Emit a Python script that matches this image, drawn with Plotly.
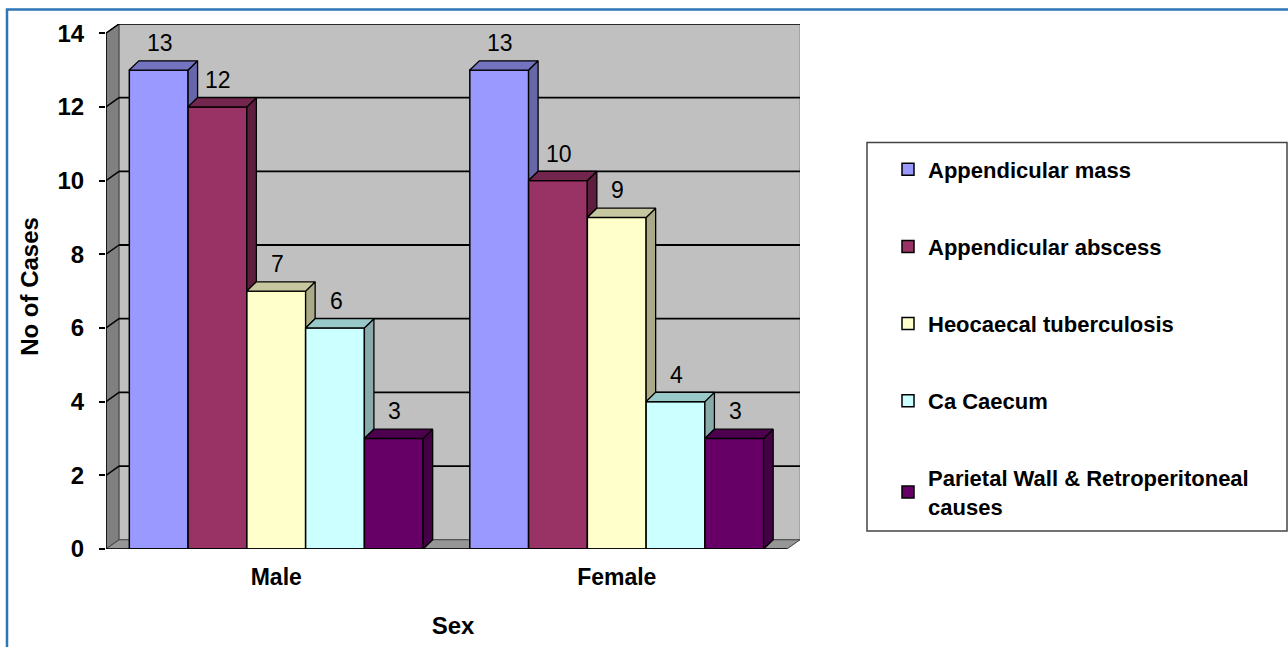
import plotly.graph_objects as go

# Case counts by sex for each diagnosis
sexes = ["Male", "Female"]
diagnoses = [
    "Appendicular mass",
    "Appendicular abscess",
    "Heocaecal tuberculosis",
    "Ca Caecum",
    "Parietal Wall & Retroperitoneal<br>causes",
]
male_cases = [13, 12, 7, 6, 3]
female_cases = [13, 10, 9, 4, 3]
y_ticks = [0, 2, 4, 6, 8, 10, 12, 14]

# face colours: front, side (shaded), top (shaded)
front_cols = ["#9999FF", "#993366", "#FFFFCC", "#CCFFFF", "#660066"]
side_cols = ["#6666AA", "#5E1F3F", "#AAAA88", "#88AAAA", "#440044"]
top_cols = ["#7373C0", "#73264D", "#C8C8A0", "#99C8C8", "#4D004D"]

FONT = "Arial, Liberation Sans, sans-serif"

# plot area geometry (pixels)
L, R, T, B = 106, 488, 24, 96
W_PX = 1288 - L - R
H_PX = 647 - T - B

x_lo = -0.5
x_hi = len(sexes) - 0.5 + 13 / 340.5
y_hi = y_ticks[-1] + 0.25

px_x = (x_hi - x_lo) / W_PX   # axis units per pixel
px_y = y_hi / H_PX

# depth offsets for walls and bars
wdx, wdy = 13 * px_x, 9.3 * px_y
bdx, bdy = 9.5 * px_x, 9.3 * px_y

group_frac = 0.863
n = len(diagnoses)
bw = group_frac / n
start = -group_frac / 2

values = [[male_cases[i], female_cases[i]] for i in range(n)]
cat_idx = list(range(len(sexes)))

fig = go.Figure()

# front faces
for i in range(n):
    fig.add_trace(go.Bar(
        x=cat_idx, y=values[i], width=bw, offset=start + i * bw,
        name=diagnoses[i], legendgroup=str(i),
        marker=dict(color=front_cols[i], line=dict(color="black", width=1.5)),
        hoverinfo="skip",
    ))

# top and side faces
for i in range(n):
    tx, ty, sx, sy = [], [], [], []
    for c in cat_idx:
        v = values[i][c]
        left = c + start + i * bw
        right = left + bw
        nxt = values[i + 1][c] if i + 1 < n else 0
        lo = min(nxt, v)
        tx += [left, right, right + bdx, left + bdx, left, None]
        ty += [v, v, v + bdy, v + bdy, v, None]
        sx += [right, right, right + bdx, right + bdx, right, None]
        sy += [lo, v, v + bdy, lo + bdy, lo, None]
    fig.add_trace(go.Scatter(x=sx, y=sy, mode="lines", fill="toself",
                             fillcolor=side_cols[i], line=dict(color="black", width=1.3),
                             showlegend=False, hoverinfo="skip"))
    fig.add_trace(go.Scatter(x=tx, y=ty, mode="lines", fill="toself",
                             fillcolor=top_cols[i], line=dict(color="black", width=1.3),
                             showlegend=False, hoverinfo="skip"))

# value labels
for i in range(n):
    for c in cat_idx:
        v = values[i][c]
        cx = c + start + (i + 0.5) * bw
        fig.add_annotation(x=cx, y=v, text=str(v), showarrow=False,
                           xshift=1, yshift=27, yanchor="middle",
                           font=dict(family=FONT, size=23, color="black"))

shapes = []
xb0, xb1 = x_lo, len(sexes) - 0.5
# back wall
shapes.append(dict(type="rect", xref="x", yref="y", layer="below",
                   x0=xb0 + wdx, x1=xb1 + wdx, y0=wdy, y1=y_ticks[-1] + wdy,
                   fillcolor="#C0C0C0", line=dict(color="#9A9A9A", width=1.5)))
# left wall
shapes.append(dict(type="path", xref="x", yref="y", layer="below",
                   path=f"M{xb0},0 L{xb0},{y_ticks[-1]} L{xb0 + wdx},{y_ticks[-1] + wdy} L{xb0 + wdx},{wdy} Z",
                   fillcolor="#808080", line=dict(color="#404040", width=1)))
# floor
shapes.append(dict(type="path", xref="x", yref="y", layer="below",
                   path=f"M{xb0},0 L{xb1},0 L{xb1 + wdx},{wdy} L{xb0 + wdx},{wdy} Z",
                   fillcolor="#969696", line=dict(color="#404040", width=1)))
# gridlines on the walls
for t in y_ticks[1:]:
    shapes.append(dict(type="line", xref="x", yref="y", layer="below",
                       x0=xb0, y0=t, x1=xb0 + wdx, y1=t + wdy,
                       line=dict(color="black", width=1.5)))
    shapes.append(dict(type="line", xref="x", yref="y", layer="below",
                       x0=xb0 + wdx, y0=t + wdy, x1=xb1 + wdx, y1=t + wdy,
                       line=dict(color="black", width=1.8)))
# front axis lines
shapes.append(dict(type="line", xref="x", yref="y", layer="above",
                   x0=xb0, y0=0, x1=xb0, y1=y_ticks[-1], line=dict(color="black", width=1.5)))
shapes.append(dict(type="line", xref="x", yref="y", layer="above",
                   x0=xb0, y0=0, x1=xb1, y1=0, line=dict(color="black", width=1.5)))


def pxx(p):
    return (p - L) / W_PX


def pxy(p):
    return (647 - B - p) / H_PX


# legend frame
shapes.append(dict(type="rect", xref="paper", yref="paper", layer="below",
                   x0=pxx(867), x1=pxx(1287), y0=pxy(533), y1=pxy(143),
                   fillcolor="white", line=dict(color="#444444", width=1.5)))
# outer chart border
shapes.append(dict(type="rect", xref="paper", yref="paper", layer="above",
                   x0=pxx(7), x1=pxx(1300), y0=pxy(660), y1=pxy(9.5),
                   fillcolor="rgba(0,0,0,0)", line=dict(color="#2E75B6", width=2.5)))

fig.update_layout(
    width=1288, height=647,
    margin=dict(l=L, r=R, t=T, b=B),
    paper_bgcolor="white", plot_bgcolor="white",
    barmode="overlay",
    shapes=shapes,
    showlegend=True,
    legend=dict(x=pxx(888), y=pxy(149), xanchor="left", yanchor="top",
                bgcolor="rgba(0,0,0,0)", borderwidth=0,
                traceorder="grouped", tracegroupgap=45.5,
                font=dict(family=FONT, size=22, color="black", weight="bold")),
    xaxis=dict(range=[x_lo, x_hi], tickvals=cat_idx, ticktext=sexes,
               showgrid=False, zeroline=False, showline=False, ticks="",
               ticklabelstandoff=12,
               tickfont=dict(family=FONT, size=23, color="black", weight="bold"),
               title=dict(text="Sex", standoff=28,
                          font=dict(family=FONT, size=24, color="black", weight="bold"))),
    xaxis2=dict(range=[x_lo, x_hi], overlaying="x", anchor="y", side="bottom",
                tickvals=[x_lo + k for k in range(len(sexes) + 1)],
                ticks="outside", ticklen=7, tickwidth=1.5, tickcolor="black",
                showticklabels=False, showgrid=False, zeroline=False, showline=False),
    yaxis=dict(range=[0, y_hi], tickvals=y_ticks, showgrid=False, zeroline=False,
               showline=False, ticks="outside", ticklen=6, tickwidth=1.5, tickcolor="black",
               ticklabelstandoff=10,
               tickfont=dict(family=FONT, size=24, color="black", weight="bold"),
               title=dict(text="No of Cases", standoff=12,
                          font=dict(family=FONT, size=24, color="black", weight="bold"))),
)

fig.write_html("out.html")
